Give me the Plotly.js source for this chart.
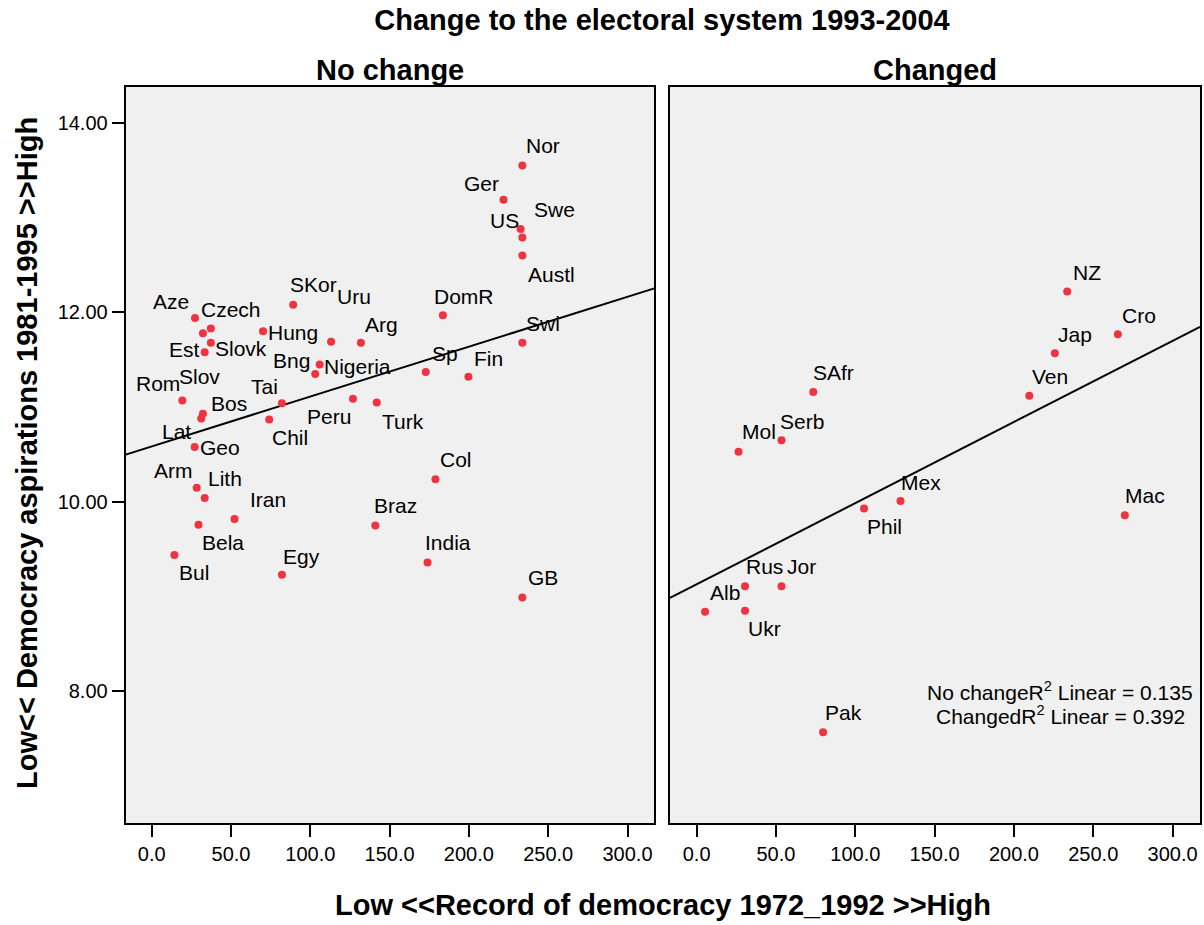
<!DOCTYPE html>
<html>
<head>
<meta charset="utf-8">
<script src="https://cdn.plot.ly/plotly-3.0.1.min.js"></script>
<style>
  html, body { margin: 0; padding: 0; background: #ffffff; }
  #chart { width: 1204px; height: 925px; }
</style>
</head>
<body>
<div id="chart"></div>
<script>
// ---------------- DATA ----------------
const mainTitle = "Change to the electoral system 1993-2004";
const panelTitles = ["No change", "Changed"];
const xAxisTitle = "Low &lt;&lt;Record of democracy 1972_1992 &gt;&gt;High";
const yAxisTitle = "Low&lt;&lt; Democracy aspirations 1981-1995 &gt;&gt;High";

const noChangeNames = ["Nor","Ger","US","Swe","Austl","SKor","DomR","Aze","Czech","Slov",
  "Hung","Uru","Arg","Swi","Slovk","Est","Nigeria","Bng","Sp","Fin",
  "Rom","Tai","Peru","Turk","Bos","Lat","Chil","Geo","Col","Arm",
  "Lith","Iran","Bela","Braz","Bul","India","Egy","GB"];
const noChangeX = [233.7,221.8,232.6,233.7,233.7,89.2,183.6,27.3,37.3,32.3,
  70.2,113.1,131.9,233.7,37.3,33.4,105.9,103.1,172.8,199.7,
  19.3,82.1,126.9,141.9,32.3,31.2,74.1,27.1,178.9,28.4,
  33.4,52.2,29.5,141.0,14.3,173.9,82.1,233.7];
const noChangeY = [13.55,13.19,12.88,12.79,12.60,12.08,11.97,11.94,11.83,11.78,
  11.80,11.69,11.68,11.68,11.68,11.58,11.45,11.35,11.37,11.32,
  11.07,11.04,11.09,11.05,10.93,10.88,10.87,10.58,10.24,10.15,
  10.04,9.82,9.76,9.75,9.44,9.36,9.23,8.99];

const changedNames = ["NZ","Cro","Jap","SAfr","Ven","Serb","Mol","Mex","Phil","Mac",
  "Rus","Jor","Alb","Ukr","Pak"];
const changedX = [233.6,265.5,225.8,73.5,209.7,53.5,26.4,128.5,105.5,269.9,
  30.5,53.5,5.3,30.5,79.7];
const changedY = [12.22,11.77,11.57,11.16,11.12,10.65,10.53,10.01,9.93,9.86,
  9.11,9.11,8.84,8.85,7.57];

const xTickVals = [0,50,100,150,200,250,300];
const xTickText = ["0.0","50.0","100.0","150.0","200.0","250.0","300.0"];
const yTickVals = [8,10,12,14];
const yTickText = ["8.00","10.00","12.00","14.00"];

const fitLabels = ["No changeR<sup>2</sup> Linear = 0.135", "ChangedR<sup>2</sup> Linear = 0.392"];

// ---------------- LAYOUT HELPERS (label offsets in px: [dx, dy], dy down) ----------------
const noChangeLabelShift = [[20.7,-19.6],[-21.6,-16.6],[-16.2,-8.3],[32,-28],[29.6,18.7],[20.3,-20],[21.1,-19],[-24.1,-16.7],[19.9,-19.4],[-3.4,43],
  [30.3,1.4],[23.4,-45],[20.4,-18],[20.3,-19.6],[30.6,6],[-20.4,-2.7],[37.9,1.7],[-23.7,-13.6],[19.7,-18.3],[20.3,-18.7],
  [-24.1,-16.7],[-17.2,-16.6],[-24.4,17.7],[26.1,18.7],[26.2,-10.6],[-25.1,13],[20.7,18.3],[25.5,0.6],[20.6,-20],[-23,-16.7],
  [19.9,-19.6],[33.8,-19.7],[24.8,18],[20,-19.7],[19.6,18],[20.4,-19.6],[20,-18.6],[20.7,-19.7]];
const changedLabelShift = [[19.6,-19.4],[20.7,-19],[20,-18.7],[20,-19],[20.7,-19.3],[20,-19],[20.7,-20],[20,-18],[20.4,18.4],[19.9,-19.3],
  [19.3,-19.3],[20,-19.6],[20.3,-19.4],[19.3,18],[20.6,-20]];

const W = 1204, H = 925;
const px = v => v / W;
const py = v => 1 - v / H;
const FONT = "Liberation Sans, Arial, Helvetica, sans-serif";
const RED = "#ef3340";

const xRange1 = [-16.4, 316.9];
const xRange2 = [-16.8, 317.3];
const yRange = [6.611, 14.379];

function linFit(xs, ys) {
  const n = xs.length;
  const mx = xs.reduce((a, b) => a + b, 0) / n;
  const my = ys.reduce((a, b) => a + b, 0) / n;
  let sxy = 0, sxx = 0;
  for (let i = 0; i < n; i++) { sxy += (xs[i] - mx) * (ys[i] - my); sxx += (xs[i] - mx) ** 2; }
  const b = sxy / sxx;
  return { a: my - b * mx, b: b };
}
const f1 = linFit(noChangeX, noChangeY);
const f2 = linFit(changedX, changedY);

const traces = [
  { type: "scatter", mode: "lines", x: xRange1, y: xRange1.map(v => f1.a + f1.b * v),
    xaxis: "x", yaxis: "y", line: { color: "#000000", width: 2 }, hoverinfo: "skip" },
  { type: "scatter", mode: "lines", x: xRange2, y: xRange2.map(v => f2.a + f2.b * v),
    xaxis: "x2", yaxis: "y2", line: { color: "#000000", width: 2 }, hoverinfo: "skip" },
  { type: "scatter", mode: "markers", x: noChangeX, y: noChangeY, text: noChangeNames,
    xaxis: "x", yaxis: "y", marker: { color: RED, size: 8, line: { width: 0 } } },
  { type: "scatter", mode: "markers", x: changedX, y: changedY, text: changedNames,
    xaxis: "x2", yaxis: "y2", marker: { color: RED, size: 8, line: { width: 0 } } }
];

const annotations = [];
noChangeNames.forEach((n, i) => annotations.push({
  x: noChangeX[i], y: noChangeY[i], xref: "x", yref: "y", text: n, showarrow: false,
  xanchor: "center", yanchor: "middle", xshift: noChangeLabelShift[i][0], yshift: -noChangeLabelShift[i][1],
  font: { family: FONT, size: 21, color: "#000" }
}));
changedNames.forEach((n, i) => annotations.push({
  x: changedX[i], y: changedY[i], xref: "x2", yref: "y2", text: n, showarrow: false,
  xanchor: "center", yanchor: "middle", xshift: changedLabelShift[i][0], yshift: -changedLabelShift[i][1],
  font: { family: FONT, size: 21, color: "#000" }
}));
// panel titles
annotations.push({ xref: "paper", yref: "paper", x: px(390), y: py(70), text: "<b>" + panelTitles[0] + "</b>",
  showarrow: false, xanchor: "center", yanchor: "middle", font: { family: FONT, size: 29, color: "#000" } });
annotations.push({ xref: "paper", yref: "paper", x: px(935), y: py(70), text: "<b>" + panelTitles[1] + "</b>",
  showarrow: false, xanchor: "center", yanchor: "middle", font: { family: FONT, size: 29, color: "#000" } });
// axis titles
annotations.push({ xref: "paper", yref: "paper", x: px(663), y: py(905), text: "<b>" + xAxisTitle + "</b>",
  showarrow: false, xanchor: "center", yanchor: "middle", font: { family: FONT, size: 29, color: "#000" } });
annotations.push({ xref: "paper", yref: "paper", x: px(27), y: py(453), text: "<b>" + yAxisTitle + "</b>",
  showarrow: false, textangle: -90, xanchor: "center", yanchor: "middle", font: { family: FONT, size: 29, color: "#000" } });
// fit text
annotations.push({ xref: "paper", yref: "paper", x: px(1060), y: py(691), text: fitLabels[0],
  showarrow: false, xanchor: "center", yanchor: "middle", font: { family: FONT, size: 21, color: "#000" } });
annotations.push({ xref: "paper", yref: "paper", x: px(1060), y: py(715), text: fitLabels[1],
  showarrow: false, xanchor: "center", yanchor: "middle", font: { family: FONT, size: 21, color: "#000" } });

const axisCommon = {
  showgrid: false, zeroline: false, showline: true, linecolor: "#000", linewidth: 2, mirror: true,
  ticks: "outside", ticklen: 12, tickwidth: 2, tickcolor: "#000",
  tickfont: { family: FONT, size: 20, color: "#000" }
};

const layout = {
  width: W, height: H,
  margin: { l: 0, r: 0, t: 0, b: 0, pad: 0 },
  paper_bgcolor: "#ffffff", plot_bgcolor: "#f0f0f0",
  showlegend: false,
  title: { text: "<b>" + mainTitle + "</b>", x: px(662), y: py(20), xref: "container", yref: "container",
    xanchor: "center", yanchor: "middle", font: { family: FONT, size: 29, color: "#000" } },
  xaxis: Object.assign({}, axisCommon, { domain: [px(125.7), px(654.3)], range: xRange1,
    tickvals: xTickVals, ticktext: xTickText, anchor: "y" }),
  xaxis2: Object.assign({}, axisCommon, { domain: [px(670), px(1200)], range: xRange2,
    tickvals: xTickVals, ticktext: xTickText, anchor: "y2" }),
  yaxis: Object.assign({}, axisCommon, { domain: [py(823), py(87)], range: yRange,
    tickvals: yTickVals, ticktext: yTickText, anchor: "x" }),
  yaxis2: Object.assign({}, axisCommon, { domain: [py(823), py(87)], range: yRange,
    ticks: "", showticklabels: false, anchor: "x2" }),
  annotations: annotations
};

Plotly.newPlot("chart", traces, layout, { staticPlot: true, displayModeBar: false });
</script>
</body>
</html>
